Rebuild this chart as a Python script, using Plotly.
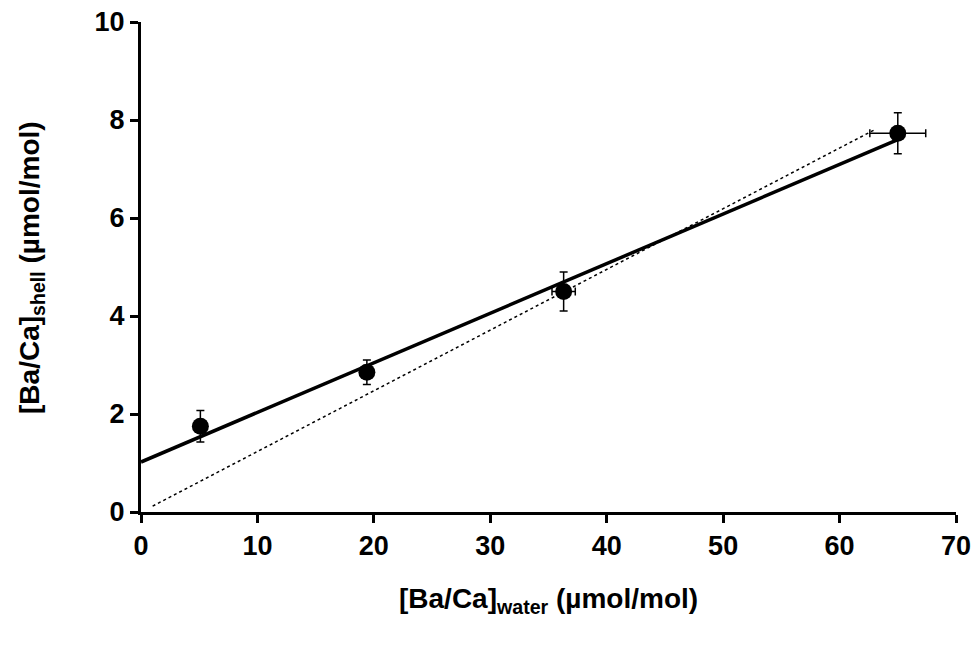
import plotly.graph_objects as go

x = [5.1, 19.4, 36.3, 65.0]
y = [1.75, 2.85, 4.5, 7.73]
x_err = [0.5, 0.5, 1.0, 2.4]
y_err = [0.32, 0.25, 0.4, 0.42]

fit_x = [0, 65]
fit_y = [1.02, 7.6]
ref_x = [1, 63]
ref_y = [0.12, 7.8]

fig = go.Figure()
fig.add_trace(go.Scatter(x=fit_x, y=fit_y, mode="lines",
                         line=dict(color="black", width=3.5)))
fig.add_trace(go.Scatter(x=ref_x, y=ref_y, mode="lines",
                         line=dict(color="black", width=1.5, dash="dot")))
fig.add_trace(go.Scatter(
    x=x, y=y, mode="markers",
    marker=dict(color="black", size=17),
    error_x=dict(type="data", array=x_err, color="black", thickness=1.5, width=4),
    error_y=dict(type="data", array=y_err, color="black", thickness=1.5, width=4),
))

font = dict(family="Liberation Sans, Arial", size=22, color="black")
tickfont = dict(size=27, family="Liberation Sans, Arial", weight="bold")
fig.update_layout(
    width=979, height=652, showlegend=False,
    plot_bgcolor="white", paper_bgcolor="white",
    margin=dict(l=133, r=31, t=14, b=148),
    font=font,
)
fig.update_xaxes(range=[0, 70], dtick=10, showgrid=False, zeroline=False,
                 showline=True, linecolor="black", linewidth=3,
                 ticks="outside", ticklen=8, tickwidth=3, tickcolor="black",
                 tickfont=tickfont, ticklabeloverflow="allow", automargin=False)
fig.update_yaxes(range=[0, 10], dtick=2, showgrid=False, zeroline=False,
                 showline=True, linecolor="black", linewidth=3,
                 ticks="outside", ticklen=8, tickwidth=3, tickcolor="black",
                 tickfont=tickfont, ticklabeloverflow="allow", automargin=False)

fig.add_annotation(text="<b>[Ba/Ca]<sub>water</sub> (µmol/mol)</b>",
                   xref="paper", yref="paper", x=0.5, y=-0.18, yanchor="middle",
                   showarrow=False, font=dict(size=28))
fig.add_annotation(text="<b>[Ba/Ca]<sub>shell</sub> (µmol/mol)</b>",
                   xref="paper", yref="paper", x=-0.135, y=0.5, xanchor="center",
                   textangle=-90, showarrow=False, font=dict(size=28))

fig.write_html("out.html")
